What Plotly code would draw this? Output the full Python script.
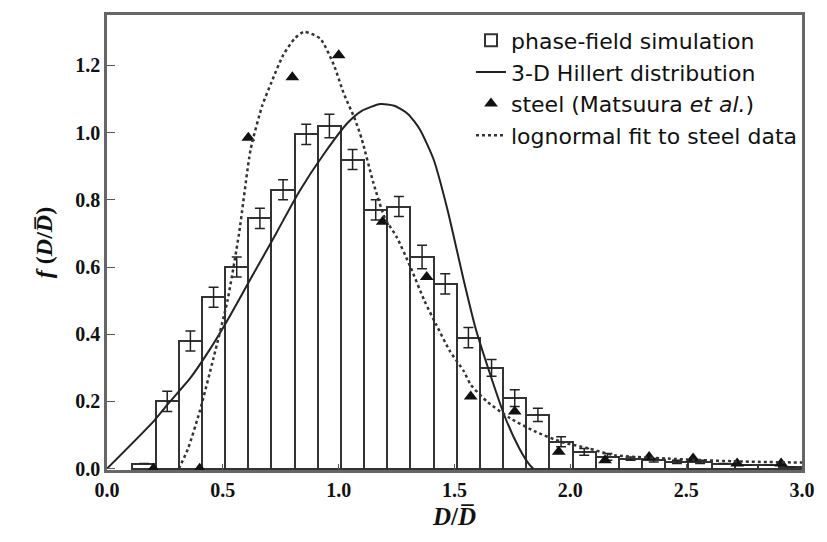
import plotly.graph_objects as go

# phase-field simulation histogram (bin centres, heights, error)
bin_x = [0.16, 0.26, 0.36, 0.46, 0.56, 0.66, 0.76, 0.86, 0.96, 1.06, 1.16, 1.26, 1.36,
         1.46, 1.56, 1.66, 1.76, 1.86, 1.96, 2.06, 2.16, 2.26, 2.36, 2.46, 2.56, 2.66,
         2.76, 2.86, 2.95]
bin_h = [0.015, 0.20, 0.38, 0.51, 0.60, 0.745, 0.83, 0.995, 1.02, 0.92, 0.77, 0.78, 0.63,
         0.55, 0.39, 0.30, 0.21, 0.16, 0.08, 0.05, 0.035, 0.03, 0.025, 0.02, 0.02, 0.015,
         0.01, 0.01, 0.005]
bin_err = [0.0, 0.03, 0.03, 0.03, 0.03, 0.03, 0.03, 0.03, 0.035, 0.03, 0.03, 0.03, 0.035,
           0.03, 0.03, 0.025, 0.025, 0.02, 0.015, 0.01, 0.01, 0.005, 0.005, 0.005, 0.005,
           0.0, 0.0, 0.0, 0.0]

# 3-D Hillert distribution
hill_x = [0.0, 0.2, 0.26, 0.36, 0.43, 0.51, 0.62, 0.73, 0.83, 0.94, 1.04, 1.10, 1.18,
          1.24, 1.30, 1.35, 1.41, 1.47, 1.54, 1.59, 1.64, 1.72, 1.78, 1.82, 1.84]
hill_y = [0.0, 0.14, 0.19, 0.27, 0.34, 0.43, 0.565, 0.70, 0.825, 0.94, 1.03, 1.065, 1.085,
          1.08, 1.055, 1.01, 0.92, 0.77, 0.56, 0.42, 0.31, 0.15, 0.06, 0.015, 0.0]

# steel data (Matsuura et al.)
steel_x = [0.20, 0.40, 0.61, 0.80, 1.00, 1.19, 1.38, 1.57, 1.76, 1.95, 2.15, 2.34, 2.53,
           2.72, 2.91]
steel_y = [0.0, 0.0, 0.985, 1.165, 1.23, 0.735, 0.57, 0.215, 0.17, 0.05, 0.025, 0.035,
           0.03, 0.015, 0.015]

# lognormal fit to steel data
logn_x = [0.31, 0.35, 0.40, 0.46, 0.52, 0.57, 0.62, 0.67, 0.71, 0.76, 0.81, 0.85, 0.92,
          0.98, 1.02, 1.07, 1.10, 1.15, 1.20, 1.25, 1.31, 1.37, 1.42, 1.48, 1.54, 1.57,
          1.64, 1.74, 1.85, 1.96, 2.08, 2.19, 2.42, 2.70, 3.0]
logn_y = [0.0, 0.06, 0.17, 0.33, 0.50, 0.70, 0.95, 1.08, 1.15, 1.23, 1.28, 1.30, 1.28,
          1.20, 1.12, 1.04, 0.98, 0.85, 0.745, 0.69, 0.60, 0.50, 0.43, 0.35, 0.29, 0.25,
          0.20, 0.15, 0.11, 0.08, 0.06, 0.04, 0.03, 0.022, 0.018]

x_ticks = [0.0, 0.5, 1.0, 1.5, 2.0, 2.5, 3.0]
y_ticks = [0.0, 0.2, 0.4, 0.6, 0.8, 1.0, 1.2]

fig = go.Figure()
fig.add_trace(go.Bar(
    x=bin_x, y=bin_h, width=0.1, name="phase-field simulation",
    marker=dict(color="white", line=dict(color="#333", width=2)),
    error_y=dict(type="data", array=bin_err, color="#222", thickness=1.5, width=5),
))
fig.add_trace(go.Scatter(
    x=hill_x, y=hill_y, mode="lines", name="3-D Hillert distribution",
    line=dict(color="#222", width=2, shape="spline", smoothing=0.6),
))
fig.add_trace(go.Scatter(
    x=steel_x, y=steel_y, mode="markers", name="steel (Matsuura <i>et al.</i>)",
    marker=dict(symbol="triangle-up", size=12, color="#111"), cliponaxis=False,
))
fig.add_trace(go.Scatter(
    x=logn_x, y=logn_y, mode="lines", name="lognormal fit to steel data",
    line=dict(color="#333", width=2.5, dash="3px,3px", shape="spline", smoothing=0.6),
))

tickfont = dict(family="Liberation Serif", size=20, color="#111", weight="bold")
fig.update_layout(
    width=827, height=542,
    margin=dict(l=107, r=17, t=12, b=72),
    paper_bgcolor="white", plot_bgcolor="white",
    bargap=0, showlegend=True,
    legend=dict(x=1.0, y=0.99, xanchor="right", yanchor="top",
                bgcolor="rgba(0,0,0,0)", font=dict(family="DejaVu Sans", size=22, color="#111"),
                itemwidth=30, tracegroupgap=0),
    font=dict(family="Liberation Serif"),
)
fig.update_xaxes(
    range=[0, 3.0], tickvals=x_ticks, ticktext=[f"{v:.1f}" for v in x_ticks],
    tickfont=tickfont, ticks="inside", ticklen=6, tickcolor="#555",
    showline=True, linecolor="#666", linewidth=2.5, mirror=True,
    showgrid=False, zeroline=False,
    title=dict(text="<b><i>D</i>/<i>D\u0305</i></b>", font=dict(family="Liberation Serif", size=25, color="#111"), standoff=8),
)
fig.update_yaxes(
    range=[-0.004, 1.35], tickvals=y_ticks, ticktext=[f"{v:.1f}" for v in y_ticks],
    tickfont=tickfont, ticks="inside", ticklen=8, tickcolor="#555",
    showline=True, linecolor="#666", linewidth=2.5, mirror=True,
    showgrid=False, zeroline=False,
    title=dict(text="<b><i>f</i> (<i>D</i>/<i>D\u0305</i>)</b>", font=dict(family="Liberation Serif", size=24, color="#111"), standoff=16),
)
fig.write_html("out.html")
